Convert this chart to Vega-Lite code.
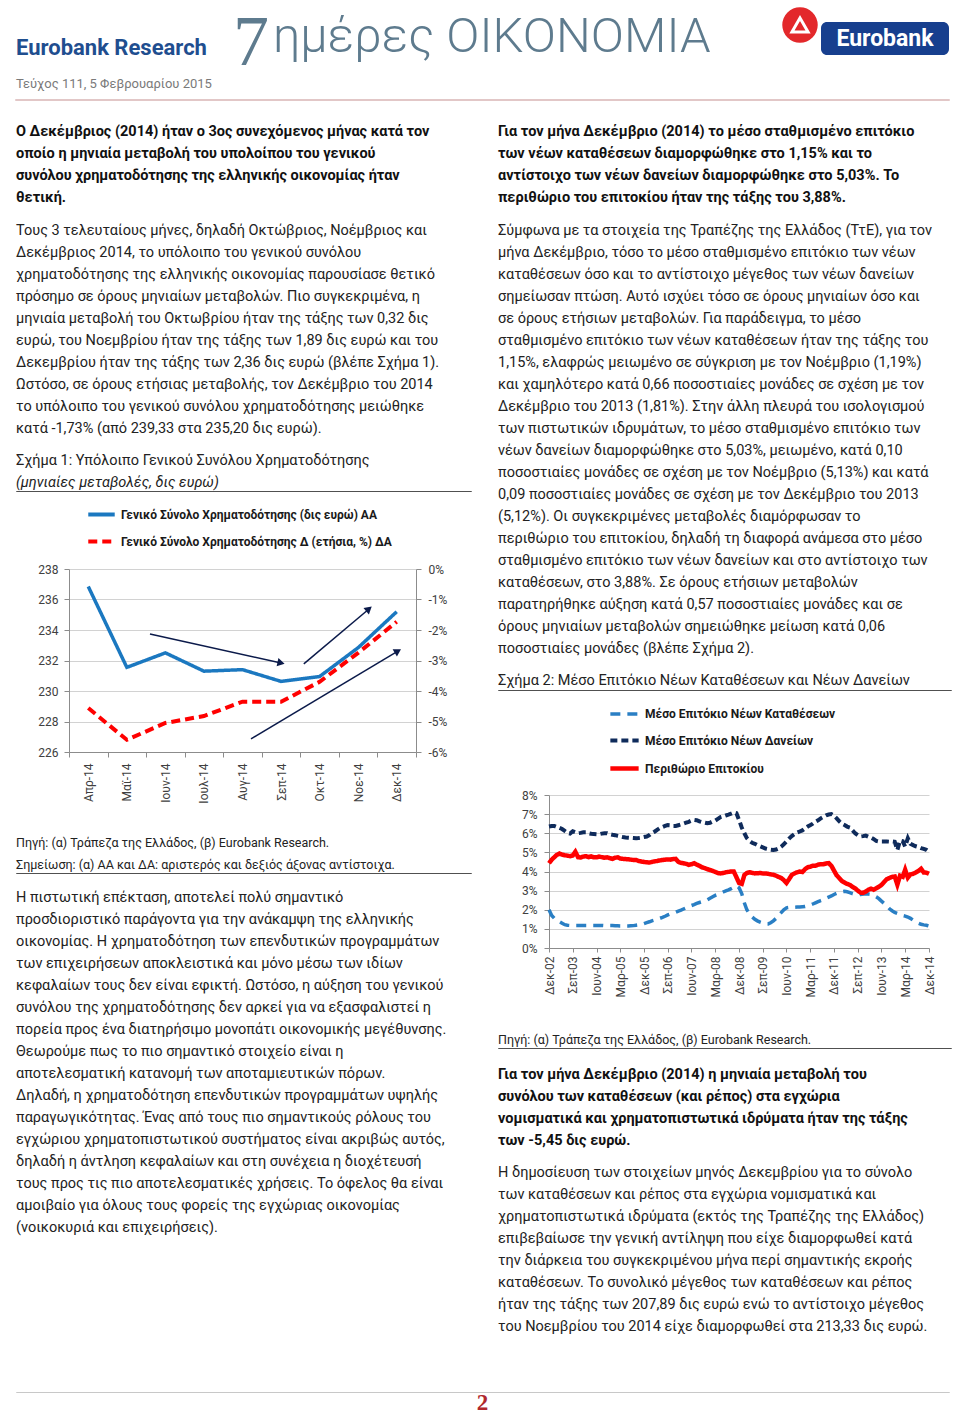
{
  "$schema": "https://vega.github.io/schema/vega-lite/v6.json",
  "background": "white",
  "padding": {"left": 15, "top": 0, "right": 12, "bottom": 0},
  "spacing": 0,
  "resolve": {"scale": {"color": "independent", "strokeDash": "independent", "strokeWidth": "independent"}, "legend": {"color": "independent", "strokeDash": "independent", "strokeWidth": "independent"}},
  "config": {
    "view": {"stroke": null},
    "font": "Roboto",
    "axis": {"labelFont": "Roboto", "labelFontSize": 12, "labelColor": "#404040", "domainColor": "#8c8c8c", "tickColor": "#8c8c8c", "gridColor": "#d2d2d2", "tickSize": 5}
  },
  "vconcat": [
    {
      "hconcat": [
        {"width": 217, "height": 0.01, "data": {"values": []}, "mark": "point",
         "title": {"text": "Eurobank Research", "subtitle": "Τεύχος 111, 5 Φεβρουαρίου 2015", "orient": "bottom", "anchor": "start", "frame": "group", "offset": 38, "font": "Roboto", "fontSize": 22, "fontWeight": "bold", "color": "#1f4e8f", "subtitleFont": "Roboto", "subtitleFontSize": 13, "subtitleColor": "#7a7a7a", "subtitlePadding": 18}},
        {"width": 40, "height": 0.01, "data": {"values": []}, "mark": "point",
         "title": {"text": "7", "orient": "bottom", "anchor": "start", "frame": "group", "offset": 8, "font": "Liberation Serif", "fontSize": 72, "fontWeight": "normal", "color": "#5e7b8e"}},
        {"width": 506, "height": 0.01, "data": {"values": []}, "mark": "point",
         "title": {"text": "ημέρες ΟΙΚΟΝΟΜΙΑ", "orient": "bottom", "anchor": "start", "frame": "group", "offset": 13, "font": "Roboto", "fontSize": 49, "fontWeight": 300, "color": "#5e7b8e"}},
        {"width": 42, "height": 50, "data": {"values": [{"logo": "Eurobank"}]},
         "layer": [
           {"mark": {"type": "point", "shape": "circle", "filled": true, "size": 1257, "color": "#e3282b", "opacity": 1}},
           {"mark": {"type": "point", "shape": "triangle-up", "filled": false, "size": 260, "color": "white", "strokeWidth": 3, "opacity": 1}}
         ]},
        {"vconcat": [
          {"width": 1, "height": 22, "data": {"values": []}, "mark": "point"},
          {"width": 128, "height": 33, "view": {"fill": "#173f8e", "cornerRadius": 6}, "data": {"values": [{"name": "Eurobank"}]},
           "mark": {"type": "text", "color": "white", "fontSize": 23, "fontWeight": "bold", "font": "Roboto"},
           "encoding": {"text": {"field": "name", "type": "nominal"}}}
        ], "spacing": 0}
      ],
      "spacing": 0
    },
    {"width": 1, "height": 7, "data": {"values": []}, "mark": "point"},
    {"width": 933, "height": 0.01, "view": {"stroke": "#d8b4b4", "strokeWidth": 1.5}, "data": {"values": []}, "mark": "point"},
    {
      "resolve": {"scale": {"color": "independent", "strokeDash": "independent", "strokeWidth": "independent"}, "legend": {"color": "independent", "strokeDash": "independent", "strokeWidth": "independent"}},
      "hconcat": [
        {
          "resolve": {"scale": {"color": "independent", "strokeDash": "independent", "strokeWidth": "independent"}, "legend": {"color": "independent", "strokeDash": "independent", "strokeWidth": "independent"}},
          "vconcat": [
            {"width": 455, "height": 0.01, "data": {"values": []}, "mark": "point",
             "title": {
               "text": [
                 "Ο Δεκέμβριος (2014) ήταν ο 3ος συνεχόμενος μήνας κατά τον",
                 "οποίο η μηνιαία μεταβολή του υπολοίπου του γενικού",
                 "συνόλου χρηματοδότησης της ελληνικής οικονομίας ήταν",
                 "θετική."
               ],
               "subtitle": [
                 "Τους 3 τελευταίους μήνες, δηλαδή Οκτώβριος, Νοέμβριος και",
                 "Δεκέμβριος 2014, το υπόλοιπο του γενικού συνόλου",
                 "χρηματοδότησης της ελληνικής οικονομίας παρουσίασε θετικό",
                 "πρόσημο σε όρους μηνιαίων μεταβολών. Πιο συγκεκριμένα, η",
                 "μηνιαία μεταβολή του Οκτωβρίου ήταν της τάξης των 0,32 δις",
                 "ευρώ, του Νοεμβρίου ήταν της τάξης των 1,89 δις ευρώ και του",
                 "Δεκεμβρίου ήταν της τάξης των 2,36 δις ευρώ (βλέπε Σχήμα 1).",
                 "Ωστόσο, σε όρους ετήσιας μεταβολής, τον Δεκέμβριο του 2014",
                 "το υπόλοιπο του γενικού συνόλου χρηματοδότησης μειώθηκε",
                 "κατά -1,73% (από 239,33 στα 235,20 δις ευρώ)."
               ],
               "orient": "bottom", "anchor": "start", "frame": "group", "offset": 24,
               "font": "Roboto", "fontSize": 14.5, "fontWeight": "bold", "color": "#111111", "lineHeight": 22,
               "subtitleFont": "Roboto", "subtitleFontSize": 14.5, "subtitleFontWeight": "normal", "subtitleColor": "#222222", "subtitleLineHeight": 22, "subtitlePadding": 18
             }},
            {"width": 1, "height": 16, "data": {"values": []}, "mark": "point"},
            {"width": 455, "height": 0.01, "view": {"stroke": "#505050"}, "data": {"values": []}, "mark": "point",
             "title": {"text": "Σχήμα 1: Υπόλοιπο Γενικού Συνόλου Χρηματοδότησης", "subtitle": "(μηνιαίες μεταβολές, δις ευρώ)",
               "orient": "top", "anchor": "start", "frame": "group", "offset": 1,
               "font": "Roboto", "fontSize": 14.5, "fontWeight": "normal", "color": "#222222",
               "subtitleFont": "Roboto", "subtitleFontSize": 14.5, "subtitleFontStyle": "italic", "subtitleColor": "#222222", "subtitlePadding": 7}},
            {"width": 1, "height": 7, "data": {"values": []}, "mark": "point"},
            {
              "resolve": {"scale": {"color": "independent", "strokeDash": "independent", "strokeWidth": "independent"}, "legend": {"color": "independent", "strokeDash": "independent", "strokeWidth": "independent"}},
              "hconcat": [
                {"width": 13, "height": 1, "data": {"values": []}, "mark": "point"},
                {
                  "width": 347, "height": 183,
                  "layer": [
                    {
                      "data": {"values": [
                        {"month": "Απρ-14", "total": 236.85, "yoy": -4.56},
                        {"month": "Μαϊ-14", "total": 231.55, "yoy": -5.6},
                        {"month": "Ιουν-14", "total": 232.5, "yoy": -5.05},
                        {"month": "Ιουλ-14", "total": 231.3, "yoy": -4.82},
                        {"month": "Αυγ-14", "total": 231.4, "yoy": -4.35},
                        {"month": "Σεπ-14", "total": 230.63, "yoy": -4.35},
                        {"month": "Οκτ-14", "total": 230.95, "yoy": -3.7},
                        {"month": "Νοε-14", "total": 232.84, "yoy": -2.75},
                        {"month": "Δεκ-14", "total": 235.2, "yoy": -1.73}
                      ]},
                      "mark": {"type": "line", "strokeWidth": 3.5},
                      "encoding": {
                        "x": {"field": "month", "type": "ordinal", "sort": null, "bandPosition": 0.5,
                              "scale": {"type": "band", "paddingInner": 0, "paddingOuter": 0},
                              "axis": {"title": null, "labelAngle": -90, "tickBand": "extent", "labelPadding": 6, "grid": false, "minExtent": 84, "maxExtent": 84}},
                        "y": {"field": "total", "type": "quantitative", "scale": {"domain": [226, 238], "nice": false, "zero": false},
                              "axis": {"title": null, "values": [226, 228, 230, 232, 234, 236, 238], "grid": true, "minExtent": 40, "maxExtent": 40, "labelPadding": 6}},
                        "color": {"datum": "Γενικό Σύνολο Χρηματοδότησης (δις ευρώ) ΑΑ", "type": "nominal",
                                  "scale": {"domain": ["Γενικό Σύνολο Χρηματοδότησης (δις ευρώ) ΑΑ", "Γενικό Σύνολο Χρηματοδότησης Δ (ετήσια, %) ΔΑ"], "range": ["#1b78c0", "#ff0000"]},
                                  "legend": {"title": null, "orient": "none", "legendX": 17, "legendY": -70, "direction": "vertical", "symbolType": "stroke", "symbolStrokeWidth": 4, "symbolSize": 700, "labelFont": "Roboto", "labelFontSize": 12, "labelFontWeight": "bold", "labelColor": "#1a1a1a", "rowPadding": 3, "labelLimit": 400}},
                        "strokeDash": {"datum": "Γενικό Σύνολο Χρηματοδότησης (δις ευρώ) ΑΑ", "type": "nominal",
                                  "scale": {"domain": ["Γενικό Σύνολο Χρηματοδότησης (δις ευρώ) ΑΑ", "Γενικό Σύνολο Χρηματοδότησης Δ (ετήσια, %) ΔΑ"], "range": [[1, 0], [9, 5]]},
                                  "legend": {"title": null, "orient": "none", "legendX": 17, "legendY": -70, "direction": "vertical", "symbolType": "stroke", "symbolStrokeWidth": 4, "symbolSize": 700, "labelFont": "Roboto", "labelFontSize": 12, "labelFontWeight": "bold", "labelColor": "#1a1a1a", "rowPadding": 3, "labelLimit": 400}}
                      }
                    },
                    {
                      "data": {"values": [
                        {"month": "Απρ-14", "total": 236.85, "yoy": -4.56},
                        {"month": "Μαϊ-14", "total": 231.55, "yoy": -5.6},
                        {"month": "Ιουν-14", "total": 232.5, "yoy": -5.05},
                        {"month": "Ιουλ-14", "total": 231.3, "yoy": -4.82},
                        {"month": "Αυγ-14", "total": 231.4, "yoy": -4.35},
                        {"month": "Σεπ-14", "total": 230.63, "yoy": -4.35},
                        {"month": "Οκτ-14", "total": 230.95, "yoy": -3.7},
                        {"month": "Νοε-14", "total": 232.84, "yoy": -2.75},
                        {"month": "Δεκ-14", "total": 235.2, "yoy": -1.73}
                      ]},
                      "mark": {"type": "line", "strokeWidth": 4},
                      "encoding": {
                        "x": {"field": "month", "type": "ordinal", "sort": null, "bandPosition": 0.5,
                              "scale": {"type": "band", "paddingInner": 0, "paddingOuter": 0}, "axis": null},
                        "y": {"field": "yoy", "type": "quantitative", "scale": {"domain": [-6, 0], "nice": false, "zero": false},
                              "axis": {"orient": "right", "title": null, "values": [-6, -5, -4, -3, -2, -1, 0], "labelExpr": "datum.value + '%'", "grid": false, "labelPadding": 7}},
                        "color": {"datum": "Γενικό Σύνολο Χρηματοδότησης Δ (ετήσια, %) ΔΑ", "type": "nominal"},
                        "strokeDash": {"datum": "Γενικό Σύνολο Χρηματοδότησης Δ (ετήσια, %) ΔΑ", "type": "nominal"}
                      }
                    },
                    {
                      "data": {"values": [
                        {"x0": 2.1, "y0": -2.13, "x1": 5.5, "y1": -3.08, "dir": 102.5},
                        {"x0": 6.09, "y0": -3.11, "x1": 7.78, "y1": -1.31, "dir": 49.8},
                        {"x0": 4.72, "y0": -5.57, "x1": 8.53, "y1": -2.69, "dir": 59}
                      ]},
                      "mark": {"type": "rule", "color": "#0b1a4a", "strokeWidth": 1.5},
                      "encoding": {
                        "x": {"field": "x0", "type": "quantitative", "scale": {"domain": [0, 9], "nice": false, "zero": false}, "axis": null},
                        "x2": {"field": "x1"},
                        "y": {"field": "y0", "type": "quantitative", "scale": {"domain": [-6, 0], "nice": false, "zero": false}, "axis": null},
                        "y2": {"field": "y1"}
                      }
                    },
                    {
                      "data": {"values": [
                        {"x0": 2.1, "y0": -2.13, "x1": 5.5, "y1": -3.08, "dir": 102.5},
                        {"x0": 6.09, "y0": -3.11, "x1": 7.78, "y1": -1.31, "dir": 49.8},
                        {"x0": 4.72, "y0": -5.57, "x1": 8.53, "y1": -2.69, "dir": 59}
                      ]},
                      "mark": {"type": "point", "shape": "triangle-up", "filled": true, "size": 70, "color": "#0b1a4a", "opacity": 1},
                      "encoding": {
                        "x": {"field": "x1", "type": "quantitative", "scale": {"domain": [0, 9], "nice": false, "zero": false}, "axis": null},
                        "y": {"field": "y1", "type": "quantitative", "scale": {"domain": [-6, 0], "nice": false, "zero": false}, "axis": null},
                        "angle": {"field": "dir", "type": "quantitative", "scale": null}
                      }
                    }
                  ],
                  "resolve": {"scale": {"x": "independent", "y": "independent"}}
                }
              ],
              "spacing": 0
            },
            {"width": 455, "height": 0.01, "view": {"stroke": "#505050"}, "data": {"values": []}, "mark": "point",
             "title": {"text": ["Πηγή: (α) Τράπεζα της Ελλάδος, (β) Eurobank Research.", "Σημείωση: (α) ΑΑ και ΔΑ: αριστερός και δεξιός άξονας αντίστοιχα."],
               "orient": "top", "anchor": "start", "frame": "group", "offset": 2,
               "font": "Roboto", "fontSize": 12.5, "fontWeight": "normal", "color": "#222222", "lineHeight": 22}},
            {"width": 455, "height": 0.01, "data": {"values": []}, "mark": "point",
             "title": {
               "text": [
                 "Η πιστωτική επέκταση, αποτελεί πολύ σημαντικό",
                 "προσδιοριστικό παράγοντα για την ανάκαμψη της ελληνικής",
                 "οικονομίας. Η χρηματοδότηση των επενδυτικών προγραμμάτων",
                 "των επιχειρήσεων αποκλειστικά και μόνο μέσω των ιδίων",
                 "κεφαλαίων τους δεν είναι εφικτή. Ωστόσο, η αύξηση του γενικού",
                 "συνόλου της χρηματοδότησης δεν αρκεί για να εξασφαλιστεί η",
                 "πορεία προς ένα διατηρήσιμο μονοπάτι οικονομικής μεγέθυνσης.",
                 "Θεωρούμε πως το πιο σημαντικό στοιχείο είναι η",
                 "αποτελεσματική κατανομή των αποταμιευτικών πόρων.",
                 "Δηλαδή, η χρηματοδότηση επενδυτικών προγραμμάτων υψηλής",
                 "παραγωγικότητας. Ένας από τους πιο σημαντικούς ρόλους του",
                 "εγχώριου χρηματοπιστωτικού συστήματος είναι ακριβώς αυτός,",
                 "δηλαδή η άντληση κεφαλαίων και στη συνέχεια η διοχέτευσή",
                 "τους προς τις πιο αποτελεσματικές χρήσεις. Το όφελος θα είναι",
                 "αμοιβαίο για όλους τους φορείς της εγχώριας οικονομίας",
                 "(νοικοκυριά και επιχειρήσεις)."
               ],
               "orient": "bottom", "anchor": "start", "frame": "group", "offset": 17,
               "font": "Roboto", "fontSize": 14.5, "fontWeight": "normal", "color": "#222222", "lineHeight": 22
             }}
          ],
          "spacing": 0
        },
        {
          "resolve": {"scale": {"color": "independent", "strokeDash": "independent", "strokeWidth": "independent"}, "legend": {"color": "independent", "strokeDash": "independent", "strokeWidth": "independent"}},
          "vconcat": [
            {"width": 453, "height": 0.01, "data": {"values": []}, "mark": "point",
             "title": {
               "text": [
                 "Για τον μήνα Δεκέμβριο (2014) το μέσο σταθμισμένο επιτόκιο",
                 "των νέων καταθέσεων διαμορφώθηκε στο 1,15% και το",
                 "αντίστοιχο των νέων δανείων διαμορφώθηκε στο 5,03%. Το",
                 "περιθώριο του επιτοκίου ήταν της τάξης του 3,88%."
               ],
               "subtitle": [
                 "Σύμφωνα με τα στοιχεία της Τραπέζης της Ελλάδος (ΤτΕ), για τον",
                 "μήνα Δεκέμβριο, τόσο το μέσο σταθμισμένο επιτόκιο των νέων",
                 "καταθέσεων όσο και το αντίστοιχο μέγεθος των νέων δανείων",
                 "σημείωσαν πτώση. Αυτό ισχύει τόσο σε όρους μηνιαίων όσο και",
                 "σε όρους ετήσιων μεταβολών. Για παράδειγμα, το μέσο",
                 "σταθμισμένο επιτόκιο των νέων καταθέσεων ήταν της τάξης του",
                 "1,15%, ελαφρώς μειωμένο σε σύγκριση με τον Νοέμβριο (1,19%)",
                 "και χαμηλότερο κατά 0,66 ποσοστιαίες μονάδες σε σχέση με τον",
                 "Δεκέμβριο του 2013 (1,81%). Στην άλλη πλευρά του ισολογισμού",
                 "των πιστωτικών ιδρυμάτων, το μέσο σταθμισμένο επιτόκιο των",
                 "νέων δανείων διαμορφώθηκε στο 5,03%, μειωμένο, κατά 0,10",
                 "ποσοστιαίες μονάδες σε σχέση με τον Νοέμβριο (5,13%) και κατά",
                 "0,09 ποσοστιαίες μονάδες σε σχέση με τον Δεκέμβριο του 2013",
                 "(5,12%). Οι συγκεκριμένες μεταβολές διαμόρφωσαν το",
                 "περιθώριο του επιτοκίου, δηλαδή τη διαφορά ανάμεσα στο μέσο",
                 "σταθμισμένο επιτόκιο των νέων δανείων και στο αντίστοιχο των",
                 "καταθέσεων, στο 3,88%. Σε όρους ετήσιων μεταβολών",
                 "παρατηρήθηκε αύξηση κατά 0,57 ποσοστιαίες μονάδες και σε",
                 "όρους μηνιαίων μεταβολών σημειώθηκε μείωση κατά 0,06",
                 "ποσοστιαίες μονάδες (βλέπε Σχήμα 2)."
               ],
               "orient": "bottom", "anchor": "start", "frame": "group", "offset": 24,
               "font": "Roboto", "fontSize": 14.5, "fontWeight": "bold", "color": "#111111", "lineHeight": 22,
               "subtitleFont": "Roboto", "subtitleFontSize": 14.5, "subtitleFontWeight": "normal", "subtitleColor": "#222222", "subtitleLineHeight": 22, "subtitlePadding": 18
             }},
            {"width": 1, "height": 16, "data": {"values": []}, "mark": "point"},
            {"width": 453, "height": 0.01, "view": {"stroke": "#505050"}, "data": {"values": []}, "mark": "point",
             "title": {"text": "Σχήμα 2: Μέσο Επιτόκιο Νέων Καταθέσεων και Νέων Δανείων",
               "orient": "top", "anchor": "start", "frame": "group", "offset": 2,
               "font": "Roboto", "fontSize": 14.5, "fontWeight": "normal", "color": "#222222"}},
            {"width": 1, "height": 7, "data": {"values": []}, "mark": "point"},
            {
              "resolve": {"scale": {"color": "independent", "strokeDash": "independent", "strokeWidth": "independent"}, "legend": {"color": "independent", "strokeDash": "independent", "strokeWidth": "independent"}},
              "hconcat": [
                {"width": 11, "height": 1, "data": {"values": []}, "mark": "point"},
                {
                  "width": 380, "height": 153,
                  "data": {"values": [
                    {"d": "2002-12-01", "dep": 2.0, "loan": 6.35, "mar": 4.43},
                    {"d": "2003-01-01", "dep": 1.7, "loan": 6.38, "mar": 4.62},
                    {"d": "2003-02-01", "dep": 1.55, "loan": 6.38, "mar": 4.75},
                    {"d": "2003-03-01", "dep": 1.45, "loan": 6.33, "mar": 4.87},
                    {"d": "2003-04-01", "dep": 1.38, "loan": 6.28, "mar": 4.94},
                    {"d": "2003-05-01", "dep": 1.3, "loan": 6.22, "mar": 4.88},
                    {"d": "2003-06-01", "dep": 1.22, "loan": 6.12, "mar": 4.85},
                    {"d": "2003-07-01", "dep": 1.19, "loan": 6.02, "mar": 4.83},
                    {"d": "2003-08-01", "dep": 1.18, "loan": 5.98, "mar": 4.8},
                    {"d": "2003-09-01", "dep": 1.18, "loan": 6.1, "mar": 4.84},
                    {"d": "2003-10-01", "dep": 1.18, "loan": 6.05, "mar": 5.03},
                    {"d": "2003-11-01", "dep": 1.18, "loan": 6.0, "mar": 4.75},
                    {"d": "2003-12-01", "dep": 1.18, "loan": 6.02, "mar": 4.73},
                    {"d": "2004-01-01", "dep": 1.18, "loan": 6.05, "mar": 4.78},
                    {"d": "2004-02-01", "dep": 1.18, "loan": 6.05, "mar": 4.8},
                    {"d": "2004-03-01", "dep": 1.18, "loan": 6.0, "mar": 4.75},
                    {"d": "2004-04-01", "dep": 1.18, "loan": 5.97, "mar": 4.79},
                    {"d": "2004-05-01", "dep": 1.18, "loan": 5.96, "mar": 4.74},
                    {"d": "2004-06-01", "dep": 1.18, "loan": 5.95, "mar": 4.74},
                    {"d": "2004-07-01", "dep": 1.18, "loan": 5.95, "mar": 4.78},
                    {"d": "2004-08-01", "dep": 1.18, "loan": 5.98, "mar": 4.75},
                    {"d": "2004-09-01", "dep": 1.17, "loan": 6.0, "mar": 4.72},
                    {"d": "2004-10-01", "dep": 1.17, "loan": 6.0, "mar": 4.74},
                    {"d": "2004-11-01", "dep": 1.17, "loan": 5.95, "mar": 4.7},
                    {"d": "2004-12-01", "dep": 1.17, "loan": 5.92, "mar": 4.66},
                    {"d": "2005-01-01", "dep": 1.16, "loan": 5.9, "mar": 4.72},
                    {"d": "2005-02-01", "dep": 1.16, "loan": 5.86, "mar": 4.74},
                    {"d": "2005-03-01", "dep": 1.15, "loan": 5.83, "mar": 4.68},
                    {"d": "2005-04-01", "dep": 1.15, "loan": 5.8, "mar": 4.66},
                    {"d": "2005-05-01", "dep": 1.15, "loan": 5.78, "mar": 4.65},
                    {"d": "2005-06-01", "dep": 1.15, "loan": 5.77, "mar": 4.64},
                    {"d": "2005-07-01", "dep": 1.16, "loan": 5.76, "mar": 4.62},
                    {"d": "2005-08-01", "dep": 1.17, "loan": 5.75, "mar": 4.6},
                    {"d": "2005-09-01", "dep": 1.19, "loan": 5.74, "mar": 4.6},
                    {"d": "2005-10-01", "dep": 1.21, "loan": 5.75, "mar": 4.55},
                    {"d": "2005-11-01", "dep": 1.23, "loan": 5.77, "mar": 4.52},
                    {"d": "2005-12-01", "dep": 1.28, "loan": 5.8, "mar": 4.5},
                    {"d": "2006-01-01", "dep": 1.33, "loan": 5.83, "mar": 4.48},
                    {"d": "2006-02-01", "dep": 1.37, "loan": 5.9, "mar": 4.47},
                    {"d": "2006-03-01", "dep": 1.42, "loan": 6.0, "mar": 4.5},
                    {"d": "2006-04-01", "dep": 1.46, "loan": 6.08, "mar": 4.53},
                    {"d": "2006-05-01", "dep": 1.5, "loan": 6.18, "mar": 4.55},
                    {"d": "2006-06-01", "dep": 1.55, "loan": 6.27, "mar": 4.58},
                    {"d": "2006-07-01", "dep": 1.6, "loan": 6.32, "mar": 4.6},
                    {"d": "2006-08-01", "dep": 1.66, "loan": 6.38, "mar": 4.62},
                    {"d": "2006-09-01", "dep": 1.73, "loan": 6.43, "mar": 4.63},
                    {"d": "2006-10-01", "dep": 1.78, "loan": 6.42, "mar": 4.62},
                    {"d": "2006-11-01", "dep": 1.82, "loan": 6.38, "mar": 4.65},
                    {"d": "2006-12-01", "dep": 1.87, "loan": 6.38, "mar": 4.66},
                    {"d": "2007-01-01", "dep": 1.93, "loan": 6.42, "mar": 4.5},
                    {"d": "2007-02-01", "dep": 1.98, "loan": 6.46, "mar": 4.45},
                    {"d": "2007-03-01", "dep": 2.04, "loan": 6.5, "mar": 4.43},
                    {"d": "2007-04-01", "dep": 2.1, "loan": 6.55, "mar": 4.4},
                    {"d": "2007-05-01", "dep": 2.16, "loan": 6.6, "mar": 4.35},
                    {"d": "2007-06-01", "dep": 2.22, "loan": 6.66, "mar": 4.38},
                    {"d": "2007-07-01", "dep": 2.27, "loan": 6.7, "mar": 4.43},
                    {"d": "2007-08-01", "dep": 2.33, "loan": 6.68, "mar": 4.36},
                    {"d": "2007-09-01", "dep": 2.38, "loan": 6.62, "mar": 4.3},
                    {"d": "2007-10-01", "dep": 2.42, "loan": 6.58, "mar": 4.22},
                    {"d": "2007-11-01", "dep": 2.46, "loan": 6.55, "mar": 4.18},
                    {"d": "2007-12-01", "dep": 2.52, "loan": 6.52, "mar": 4.12},
                    {"d": "2008-01-01", "dep": 2.6, "loan": 6.55, "mar": 4.08},
                    {"d": "2008-02-01", "dep": 2.68, "loan": 6.62, "mar": 4.03},
                    {"d": "2008-03-01", "dep": 2.75, "loan": 6.66, "mar": 3.98},
                    {"d": "2008-04-01", "dep": 2.8, "loan": 6.75, "mar": 3.92},
                    {"d": "2008-05-01", "dep": 2.86, "loan": 6.84, "mar": 3.9},
                    {"d": "2008-06-01", "dep": 2.93, "loan": 6.88, "mar": 3.92},
                    {"d": "2008-07-01", "dep": 2.99, "loan": 6.93, "mar": 3.96},
                    {"d": "2008-08-01", "dep": 3.04, "loan": 6.97, "mar": 3.98},
                    {"d": "2008-09-01", "dep": 3.1, "loan": 7.02, "mar": 4.0},
                    {"d": "2008-10-01", "dep": 3.17, "loan": 7.08, "mar": 4.0},
                    {"d": "2008-11-01", "dep": 3.25, "loan": 7.05, "mar": 3.7},
                    {"d": "2008-12-01", "dep": 3.15, "loan": 6.7, "mar": 3.4},
                    {"d": "2009-01-01", "dep": 2.85, "loan": 6.3, "mar": 3.35},
                    {"d": "2009-02-01", "dep": 2.35, "loan": 6.0, "mar": 3.82},
                    {"d": "2009-03-01", "dep": 2.0, "loan": 5.75, "mar": 3.92},
                    {"d": "2009-04-01", "dep": 1.78, "loan": 5.6, "mar": 3.96},
                    {"d": "2009-05-01", "dep": 1.62, "loan": 5.5, "mar": 3.93},
                    {"d": "2009-06-01", "dep": 1.5, "loan": 5.45, "mar": 3.9},
                    {"d": "2009-07-01", "dep": 1.42, "loan": 5.38, "mar": 3.91},
                    {"d": "2009-08-01", "dep": 1.35, "loan": 5.32, "mar": 3.92},
                    {"d": "2009-09-01", "dep": 1.3, "loan": 5.26, "mar": 3.9},
                    {"d": "2009-10-01", "dep": 1.26, "loan": 5.2, "mar": 3.9},
                    {"d": "2009-11-01", "dep": 1.26, "loan": 5.17, "mar": 3.88},
                    {"d": "2009-12-01", "dep": 1.32, "loan": 5.14, "mar": 3.85},
                    {"d": "2010-01-01", "dep": 1.42, "loan": 5.12, "mar": 3.83},
                    {"d": "2010-02-01", "dep": 1.55, "loan": 5.15, "mar": 3.78},
                    {"d": "2010-03-01", "dep": 1.7, "loan": 5.2, "mar": 3.72},
                    {"d": "2010-04-01", "dep": 1.85, "loan": 5.3, "mar": 3.66},
                    {"d": "2010-05-01", "dep": 2.0, "loan": 5.42, "mar": 3.55},
                    {"d": "2010-06-01", "dep": 2.1, "loan": 5.57, "mar": 3.4},
                    {"d": "2010-07-01", "dep": 2.12, "loan": 5.72, "mar": 3.6},
                    {"d": "2010-08-01", "dep": 2.13, "loan": 5.85, "mar": 3.82},
                    {"d": "2010-09-01", "dep": 2.13, "loan": 5.95, "mar": 3.9},
                    {"d": "2010-10-01", "dep": 2.14, "loan": 6.03, "mar": 3.96},
                    {"d": "2010-11-01", "dep": 2.15, "loan": 6.09, "mar": 4.0},
                    {"d": "2010-12-01", "dep": 2.16, "loan": 6.15, "mar": 3.97},
                    {"d": "2011-01-01", "dep": 2.17, "loan": 6.25, "mar": 4.12},
                    {"d": "2011-02-01", "dep": 2.2, "loan": 6.35, "mar": 4.22},
                    {"d": "2011-03-01", "dep": 2.24, "loan": 6.42, "mar": 4.25},
                    {"d": "2011-04-01", "dep": 2.3, "loan": 6.5, "mar": 4.3},
                    {"d": "2011-05-01", "dep": 2.36, "loan": 6.6, "mar": 4.3},
                    {"d": "2011-06-01", "dep": 2.42, "loan": 6.68, "mar": 4.36},
                    {"d": "2011-07-01", "dep": 2.48, "loan": 6.78, "mar": 4.38},
                    {"d": "2011-08-01", "dep": 2.53, "loan": 6.86, "mar": 4.38},
                    {"d": "2011-09-01", "dep": 2.6, "loan": 6.94, "mar": 4.42},
                    {"d": "2011-10-01", "dep": 2.66, "loan": 6.98, "mar": 4.44},
                    {"d": "2011-11-01", "dep": 2.72, "loan": 7.0, "mar": 4.3},
                    {"d": "2011-12-01", "dep": 2.8, "loan": 6.92, "mar": 4.05},
                    {"d": "2012-01-01", "dep": 2.86, "loan": 6.78, "mar": 3.8},
                    {"d": "2012-02-01", "dep": 2.9, "loan": 6.62, "mar": 3.65},
                    {"d": "2012-03-01", "dep": 2.94, "loan": 6.5, "mar": 3.5},
                    {"d": "2012-04-01", "dep": 2.96, "loan": 6.43, "mar": 3.42},
                    {"d": "2012-05-01", "dep": 2.94, "loan": 6.35, "mar": 3.35},
                    {"d": "2012-06-01", "dep": 2.9, "loan": 6.3, "mar": 3.3},
                    {"d": "2012-07-01", "dep": 2.84, "loan": 6.15, "mar": 3.2},
                    {"d": "2012-08-01", "dep": 2.8, "loan": 6.0, "mar": 3.12},
                    {"d": "2012-09-01", "dep": 2.78, "loan": 5.9, "mar": 3.0},
                    {"d": "2012-10-01", "dep": 2.8, "loan": 5.83, "mar": 2.9},
                    {"d": "2012-11-01", "dep": 2.82, "loan": 5.85, "mar": 2.88},
                    {"d": "2012-12-01", "dep": 2.82, "loan": 5.88, "mar": 2.95},
                    {"d": "2013-01-01", "dep": 2.82, "loan": 5.82, "mar": 3.05},
                    {"d": "2013-02-01", "dep": 2.8, "loan": 5.77, "mar": 3.1},
                    {"d": "2013-03-01", "dep": 2.75, "loan": 5.7, "mar": 3.05},
                    {"d": "2013-04-01", "dep": 2.68, "loan": 5.6, "mar": 3.12},
                    {"d": "2013-05-01", "dep": 2.58, "loan": 5.57, "mar": 3.2},
                    {"d": "2013-06-01", "dep": 2.45, "loan": 5.57, "mar": 3.3},
                    {"d": "2013-07-01", "dep": 2.33, "loan": 5.57, "mar": 3.45},
                    {"d": "2013-08-01", "dep": 2.2, "loan": 5.57, "mar": 3.6},
                    {"d": "2013-09-01", "dep": 2.05, "loan": 5.56, "mar": 3.66},
                    {"d": "2013-10-01", "dep": 1.95, "loan": 5.57, "mar": 3.72},
                    {"d": "2013-11-01", "dep": 1.86, "loan": 5.55, "mar": 3.74},
                    {"d": "2013-12-01", "dep": 1.81, "loan": 5.12, "mar": 3.31},
                    {"d": "2014-01-01", "dep": 1.75, "loan": 5.62, "mar": 3.78},
                    {"d": "2014-02-01", "dep": 1.7, "loan": 5.58, "mar": 3.72},
                    {"d": "2014-03-01", "dep": 1.67, "loan": 5.3, "mar": 4.09},
                    {"d": "2014-04-01", "dep": 1.62, "loan": 5.74, "mar": 3.68},
                    {"d": "2014-05-01", "dep": 1.55, "loan": 5.45, "mar": 3.85},
                    {"d": "2014-06-01", "dep": 1.45, "loan": 5.38, "mar": 3.88},
                    {"d": "2014-07-01", "dep": 1.38, "loan": 5.32, "mar": 3.95},
                    {"d": "2014-08-01", "dep": 1.3, "loan": 5.28, "mar": 4.03},
                    {"d": "2014-09-01", "dep": 1.24, "loan": 5.22, "mar": 4.14},
                    {"d": "2014-10-01", "dep": 1.21, "loan": 5.18, "mar": 3.95},
                    {"d": "2014-11-01", "dep": 1.19, "loan": 5.13, "mar": 3.94},
                    {"d": "2014-12-01", "dep": 1.15, "loan": 5.03, "mar": 3.88}
                  ]},
                  "transform": [{"fold": ["dep", "loan", "mar"], "as": ["series", "value"]}],
                  "mark": {"type": "line"},
                  "encoding": {
                    "x": {"field": "d", "type": "temporal",
                          "scale": {"type": "utc", "nice": false, "domain": [{"year": 2002, "month": 12, "date": 1, "utc": true}, {"year": 2014, "month": 12, "date": 1, "utc": true}]},
                          "axis": {"title": null, "grid": false, "labelAngle": -90, "labelPadding": 4, "tickSize": 4, "minExtent": 85, "maxExtent": 85,
                                   "values": [
                                     {"year": 2002, "month": 12, "date": 1, "utc": true},
                                     {"year": 2003, "month": 9, "date": 1, "utc": true},
                                     {"year": 2004, "month": 6, "date": 1, "utc": true},
                                     {"year": 2005, "month": 3, "date": 1, "utc": true},
                                     {"year": 2005, "month": 12, "date": 1, "utc": true},
                                     {"year": 2006, "month": 9, "date": 1, "utc": true},
                                     {"year": 2007, "month": 6, "date": 1, "utc": true},
                                     {"year": 2008, "month": 3, "date": 1, "utc": true},
                                     {"year": 2008, "month": 12, "date": 1, "utc": true},
                                     {"year": 2009, "month": 9, "date": 1, "utc": true},
                                     {"year": 2010, "month": 6, "date": 1, "utc": true},
                                     {"year": 2011, "month": 3, "date": 1, "utc": true},
                                     {"year": 2011, "month": 12, "date": 1, "utc": true},
                                     {"year": 2012, "month": 9, "date": 1, "utc": true},
                                     {"year": 2013, "month": 6, "date": 1, "utc": true},
                                     {"year": 2014, "month": 3, "date": 1, "utc": true},
                                     {"year": 2014, "month": 12, "date": 1, "utc": true}
                                   ],
                                   "labelExpr": "['Ιαν','Φεβ','Μαρ','Απρ','Μαϊ','Ιουν','Ιουλ','Αυγ','Σεπ','Οκτ','Νοε','Δεκ'][utcmonth(datum.value)] + '-' + utcFormat(datum.value, '%y')"}},
                    "y": {"field": "value", "type": "quantitative", "scale": {"domain": [0, 8], "nice": false},
                          "axis": {"title": null, "values": [0, 1, 2, 3, 4, 5, 6, 7, 8], "labelExpr": "datum.value + '%'", "grid": true, "minExtent": 40, "maxExtent": 40, "labelPadding": 7}},
                    "color": {"field": "series", "type": "nominal",
                              "scale": {"domain": ["dep", "loan", "mar"], "range": ["#2a7fc4", "#0f2b5b", "#ff0000"]},
                              "legend": {"title": null, "orient": "none", "legendX": 59, "legendY": -97, "direction": "vertical", "symbolType": "stroke", "symbolSize": 800, "labelFont": "Roboto", "labelFontSize": 12, "labelFontWeight": "bold", "labelColor": "#1a1a1a", "rowPadding": 3, "labelLimit": 400,
                                         "labelExpr": "datum.label == 'dep' ? 'Μέσο Επιτόκιο Νέων Καταθέσεων' : datum.label == 'loan' ? 'Μέσο Επιτόκιο Νέων Δανείων' : 'Περιθώριο Επιτοκίου'"}},
                    "strokeDash": {"field": "series", "type": "nominal",
                              "scale": {"domain": ["dep", "loan", "mar"], "range": [[10, 7], [7, 4], [1, 0]]},
                              "legend": {"title": null, "orient": "none", "legendX": 59, "legendY": -97, "direction": "vertical", "symbolType": "stroke", "symbolSize": 800, "labelFont": "Roboto", "labelFontSize": 12, "labelFontWeight": "bold", "labelColor": "#1a1a1a", "rowPadding": 3, "labelLimit": 400,
                                         "labelExpr": "datum.label == 'dep' ? 'Μέσο Επιτόκιο Νέων Καταθέσεων' : datum.label == 'loan' ? 'Μέσο Επιτόκιο Νέων Δανείων' : 'Περιθώριο Επιτοκίου'"}},
                    "strokeWidth": {"field": "series", "type": "nominal",
                              "scale": {"domain": ["dep", "loan", "mar"], "range": [3.5, 4.5, 2.5]},
                              "legend": {"title": null, "orient": "none", "legendX": 59, "legendY": -97, "direction": "vertical", "symbolType": "stroke", "symbolSize": 800, "labelFont": "Roboto", "labelFontSize": 12, "labelFontWeight": "bold", "labelColor": "#1a1a1a", "rowPadding": 3, "labelLimit": 400,
                                         "labelExpr": "datum.label == 'dep' ? 'Μέσο Επιτόκιο Νέων Καταθέσεων' : datum.label == 'loan' ? 'Μέσο Επιτόκιο Νέων Δανείων' : 'Περιθώριο Επιτοκίου'"}}
                  }
                }
              ],
              "spacing": 0
            },
            {"width": 453, "height": 0.01, "view": {"stroke": "#505050"}, "data": {"values": []}, "mark": "point",
             "title": {"text": "Πηγή: (α) Τράπεζα της Ελλάδος, (β) Eurobank Research.",
               "orient": "top", "anchor": "start", "frame": "group", "offset": 2,
               "font": "Roboto", "fontSize": 12.5, "fontWeight": "normal", "color": "#222222"}},
            {"width": 453, "height": 0.01, "data": {"values": []}, "mark": "point",
             "title": {
               "text": [
                 "Για τον μήνα Δεκέμβριο (2014) η μηνιαία μεταβολή του",
                 "συνόλου των καταθέσεων (και ρέπος) στα εγχώρια",
                 "νομισματικά και χρηματοπιστωτικά ιδρύματα ήταν της τάξης",
                 "των -5,45 δις ευρώ."
               ],
               "subtitle": [
                 "Η δημοσίευση των στοιχείων μηνός Δεκεμβρίου για το σύνολο",
                 "των καταθέσεων και ρέπος στα εγχώρια νομισματικά και",
                 "χρηματοπιστωτικά ιδρύματα (εκτός της Τραπέζης της Ελλάδος)",
                 "επιβεβαίωσε την γενική αντίληψη που είχε διαμορφωθεί κατά",
                 "την διάρκεια του συγκεκριμένου μήνα περί σημαντικής εκροής",
                 "καταθέσεων. Το συνολικό μέγεθος των καταθέσεων και ρέπος",
                 "ήταν της τάξης των 207,89 δις ευρώ ενώ το αντίστοιχο μέγεθος",
                 "του Νοεμβρίου του 2014 είχε διαμορφωθεί στα 213,33 δις ευρώ."
               ],
               "orient": "bottom", "anchor": "start", "frame": "group", "offset": 19,
               "font": "Roboto", "fontSize": 14.5, "fontWeight": "bold", "color": "#111111", "lineHeight": 22,
               "subtitleFont": "Roboto", "subtitleFontSize": 14.5, "subtitleFontWeight": "normal", "subtitleColor": "#222222", "subtitleLineHeight": 22, "subtitlePadding": 17
             }}
          ],
          "spacing": 0
        }
      ],
      "spacing": 25
    },
    {"width": 1, "height": 57, "data": {"values": []}, "mark": "point"},
    {"width": 933, "height": 0.01, "view": {"stroke": "#c8c8c8"}, "data": {"values": []}, "mark": "point",
     "title": {"text": "2", "orient": "bottom", "anchor": "middle", "frame": "group", "offset": 0, "font": "Liberation Serif", "fontSize": 23, "color": "#b0282d"}}
  ]
}
